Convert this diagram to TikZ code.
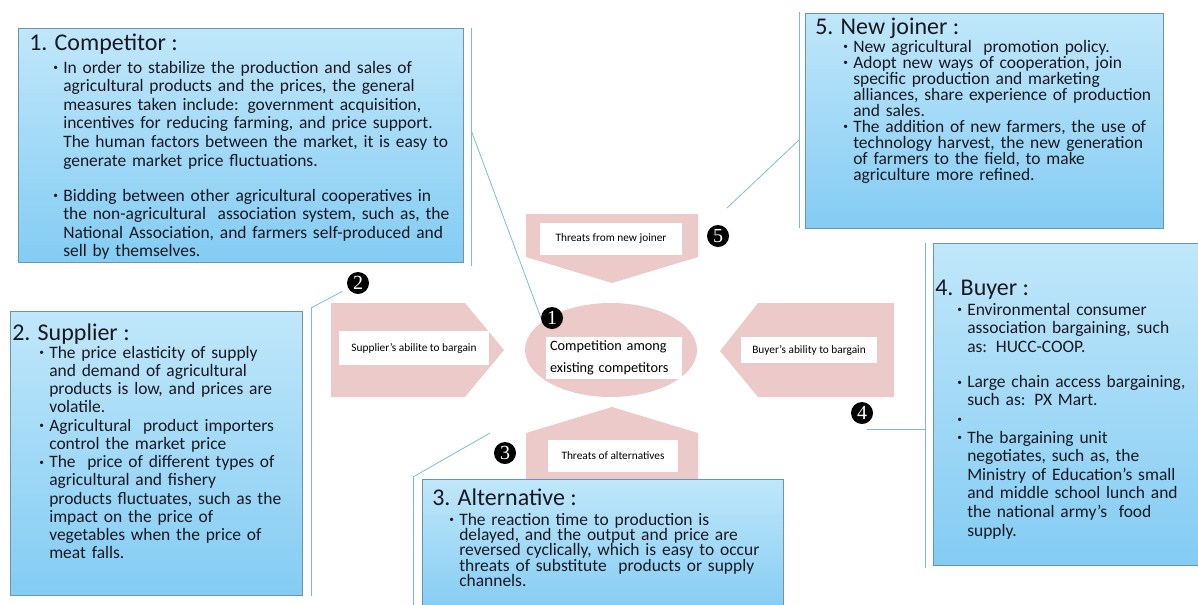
\documentclass[tikz,border=0pt]{standalone}
\usepackage{fontspec}
\setmainfont{Carlito}
\newfontfamily\numfont{Liberation Serif}
\usetikzlibrary{positioning}
\definecolor{boxtop}{RGB}{192,231,250}
\definecolor{boxbot}{RGB}{132,204,243}
\definecolor{boxline}{RGB}{105,150,175}
\definecolor{accent}{RGB}{125,188,208}
\definecolor{pinkc}{RGB}{237,202,202}
\definecolor{txt}{RGB}{25,25,35}
\newcommand{\bul}[1]{\hangindent=7.5pt\hangafter=1%
  \makebox[7.5pt][l]{\raisebox{0.12em}{\scriptsize\textbullet}}#1\par}
\tikzset{
  infobox/.style={draw=boxline, line width=0.6pt, top color=boxtop, bottom color=boxbot},
  boxtitle/.style={anchor=base west, inner sep=0pt, text=txt, font=\fontsize{18}{20}\selectfont},
  boxbody/.style={anchor=base west, inner sep=0pt, text=txt, text width=480pt,
    font=\fontsize{13.1}{#1}\selectfont},
  forceshape/.style={fill=pinkc},
  forcelabel/.style={fill=white, inner sep=0pt, text=black, font=\fontsize{8.5}{10}\selectfont},
  numdot/.style={circle, fill=black, text=white, inner sep=0pt, minimum size=16.5pt,
    font=\numfont\fontsize{15}{15}\selectfont},
  accentbar/.style={draw=accent, line width=0.6pt},
  leader/.style={draw=accent, line width=0.6pt},
}
\begin{document}
\begin{tikzpicture}[x=0.75pt,y=-0.75pt]
\useasboundingbox (0,0) rectangle (1198,604);

% five forces in the middle
\path[forceshape] (526,214) -- (698,214) -- (698,257) -- (612,283) -- (526,257) -- cycle;
\path[forceshape] (331,303) -- (465,303) -- (504,350) -- (465,397) -- (331,397) -- cycle;
\path[forceshape] (894,303) -- (758,303) -- (720,351) -- (758,397) -- (894,397) -- cycle;
\path[forceshape] (526,495) -- (526,433) -- (612,407) -- (698,433) -- (698,495) -- cycle;
\path[forceshape] (611,350) ellipse [x radius=86, y radius=47];

\node[forcelabel, minimum width=107pt, minimum height=24pt] (newjoin) at (611,239) {Threats from new joiner};
\node[forcelabel, minimum width=113pt, minimum height=25pt] (supply) at (414,348) {Supplier's abilite to bargain};
\node[forcelabel, minimum width=102pt, minimum height=20pt] (buyer) at (809,350) {Buyer's ability to bargain};
\node[forcelabel, minimum width=102pt, minimum height=32pt, text width=96pt, align=left,
  inner xsep=3pt, font=\fontsize{10.7}{16.5}\selectfont] (rival) at (614,358) {Competition among\\existing competitors};

% callout boxes
\path[infobox] (18,28) rectangle (463,262);
\path[infobox] (10,311) rectangle (302,595);
\path[infobox] (933,243) rectangle (1205,565);
\path[infobox] (805,13) rectangle (1163,228);
\path[infobox] (422,479) rectangle (783,612);
\node[forcelabel, minimum width=97.5pt, minimum height=24pt] (altern) at (613,456) {Threats of alternatives};

% box 1
\node[boxtitle] (t1) at (29,50) {1. Competitor :};
\node[boxbody=13.95] (b1) at (53,73) {%
\bul{In order to stabilize the production and sales of\newline agricultural products and the prices, the general\newline measures taken include: government acquisition,\newline incentives for reducing farming, and price support.\newline The human factors between the market, it is easy to\newline generate market price fluctuations.}%
\vspace{12.3pt}%
\bul{Bidding between other agricultural cooperatives in\newline the non-agricultural\ \ association system, such as, the\newline National Association, and farmers self-produced and\newline sell by themselves.}};

% box 2
\node[boxtitle] (t2) at (12,340) {2. Supplier :};
\node[boxbody=13.7] (b2) at (39,358) {%
\bul{The price elasticity of supply\newline and demand of agricultural\newline products is low, and prices are\newline volatile.}%
\bul{Agricultural\ \ product importers\newline control the market price}%
\bul{The\ \ price of different types of\newline agricultural and fishery\newline products fluctuates, such as the\newline impact on the price of\newline vegetables when the price of\newline meat falls.}};

% box 3
\node[boxtitle] (t3) at (432,505) {3. Alternative :};
\node[boxbody=11.6] (b3) at (449,525) {%
\bul{The reaction time to production is\newline delayed, and the output and price are\newline reversed cyclically, which is easy to occur\newline threats of substitute\ \ products or supply\newline channels.}};

% box 4
\node[boxtitle] (t4) at (935,295) {4. Buyer :};
\node[boxbody=13.95] (b4) at (957,315) {%
\bul{Environmental consumer\newline association bargaining, such\newline as: HUCC-COOP.}%
\vspace{12.3pt}%
\bul{Large chain access bargaining,\newline such as: PX Mart.}%
\bul{\mbox{}}%
\bul{The bargaining unit\newline negotiates, such as, the\newline Ministry of Education's small\newline and middle school lunch and\newline the national army's\ \ food\newline supply.}};

% box 5
\node[boxtitle] (t5) at (815,34) {5. New joiner :};
\node[boxbody=12] (b5) at (843,52) {%
\bul{New agricultural\ \ promotion policy.}%
\bul{Adopt new ways of cooperation, join\newline specific production and marketing\newline alliances, share experience of production\newline and sales.}%
\bul{The addition of new farmers, the use of\newline technology harvest, the new generation\newline of farmers to the field, to make\newline agriculture more refined.}};

% numbers
\node[numdot] (n1) at (552,318) {1};
\node[numdot] (n2) at (358,283) {2};
\node[numdot] (n3) at (505,453) {3};
\node[numdot] (n4) at (862,413) {4};
\node[numdot] (n5) at (718,236) {5};

% accent bars and leaders
\coordinate (a1t) at (471,28);  \coordinate (a1b) at (471,266); \coordinate (a1m) at (471,130);
\coordinate (a2t) at (311,308); \coordinate (a2b) at (311,596);
\coordinate (a3t) at (413,477); \coordinate (a3b) at (413,606);
\coordinate (a4t) at (925,243); \coordinate (a4b) at (925,568); \coordinate (a4m) at (925,429);
\coordinate (a5t) at (799,12);  \coordinate (a5b) at (799,228); \coordinate (a5m) at (799,140);
\coordinate (e1) at (541,318);
\coordinate (e3) at (490,433);
\coordinate (e4) at (867,429);
\coordinate (e5) at (727,208);
\draw[accentbar] (a1t) -- (a1b);
\draw[accentbar] (a2t) -- (a2b);
\draw[accentbar] (a3t) -- (a3b);
\draw[accentbar] (a4t) -- (a4b);
\draw[accentbar] (a5t) -- (a5b);
\draw[leader] (a1m) -- (e1);
\draw[leader, shorten >=5pt] (a2t) -- (n2);
\draw[leader] (a3t) -- (e3);
\draw[leader] (a4m) -- (e4);
\draw[leader] (a5m) -- (e5);
\end{tikzpicture}
\end{document}
